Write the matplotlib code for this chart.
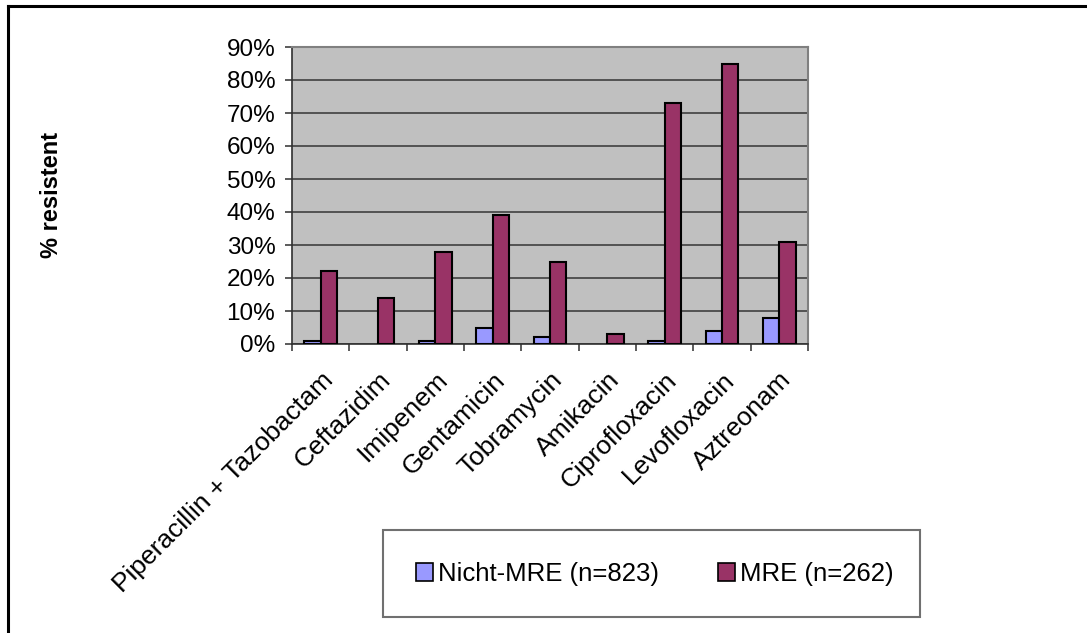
import matplotlib
matplotlib.use("Agg")
import matplotlib.pyplot as plt
import matplotlib.transforms as mtransforms
import numpy as np
from matplotlib.patches import Patch, Rectangle
from matplotlib.lines import Line2D
from matplotlib.ticker import FuncFormatter, FixedLocator

plt.rcParams['font.family'] = ['Liberation Sans', 'DejaVu Sans']

antibiotics = ["Piperacillin + Tazobactam", "Ceftazidim", "Imipenem", "Gentamicin",
               "Tobramycin", "Amikacin", "Ciprofloxacin", "Levofloxacin", "Aztreonam"]
nicht_mre = [1, 0, 1, 5, 2, 0, 1, 4, 8]
mre = [22, 14, 28, 39, 25, 3, 73, 85, 31]
series_labels = ["Nicht-MRE (n=823)", "MRE (n=262)"]
y_ticks = [0, 10, 20, 30, 40, 50, 60, 70, 80, 90]

W, H = 1087, 633
fig = plt.figure(figsize=(W / 100, H / 100), dpi=100)

ax = fig.add_axes([292 / W, 1 - 344 / H, 516 / W, 297 / H])
ax.set_facecolor('#C0C0C0')

x = np.arange(len(antibiotics))
bw = 1 / 3.5
for offset, vals, col in ((-bw / 2, nicht_mre, '#9999FF'), (bw / 2, mre, '#993366')):
    bars = ax.bar(x + offset, vals, width=bw, color=col, edgecolor='black',
                  linewidth=1.5, zorder=3)
    for b, v in zip(bars, vals):
        if v == 0:
            b.set_linewidth(0)

ax.set_xlim(-0.5, len(antibiotics) - 0.5)
ax.set_ylim(0, 90)
ax.set_yticks(y_ticks)
ax.yaxis.set_major_formatter(FuncFormatter(lambda v, p: f"{int(round(v))}%"))
ax.grid(axis='y', color='#404040', linewidth=1.2, zorder=1)
ax.set_axisbelow(True)

ax.set_xticks(x)
ax.set_xticklabels(antibiotics, rotation=45, ha='right', va='top', rotation_mode='anchor')
shift = mtransforms.ScaledTranslation(-6 / 100, 0, fig.dpi_scale_trans)
for lbl in ax.get_xticklabels():
    lbl.set_transform(lbl.get_transform() + shift)
ax.xaxis.set_minor_locator(FixedLocator(np.arange(-0.5, len(antibiotics), 1.0)))
ax.tick_params(axis='x', which='major', length=0, pad=17, labelsize=19)
ax.tick_params(axis='x', which='minor', length=5, width=1.2, color='#404040', direction='out')
ax.tick_params(axis='y', length=5, width=1.2, color='#404040', direction='out', pad=7, labelsize=17.5)

for side in ('top', 'right'):
    ax.spines[side].set_color('#808080')
    ax.spines[side].set_linewidth(1.5)
for side in ('left', 'bottom'):
    ax.spines[side].set_color('#303030')
    ax.spines[side].set_linewidth(1.2)

fig.text(52 / W, 1 - 195 / H, "% resistent", rotation=90, ha='center', va='center',
         fontsize=17, fontweight='bold')

# legend box
fig.patches.append(Rectangle((383 / W, 1 - 617 / H), (920 - 383) / W, 87 / H,
                             transform=fig.transFigure, facecolor='white',
                             edgecolor='#707070', linewidth=1.5, zorder=0))
handles = [Patch(facecolor='#9999FF', edgecolor='black', linewidth=1.2),
           Patch(facecolor='#993366', edgecolor='black', linewidth=1.2)]
fig.legend(handles, series_labels, loc='center', bbox_to_anchor=(655 / W, 1 - 574 / H),
           ncol=2, frameon=False, fontsize=18.5, handlelength=0.65, handleheight=0.65,
           handletextpad=0.2, columnspacing=2.3)

# outer border (top and left)
fig.add_artist(Line2D([8 / W, 1], [1 - 6 / H, 1 - 6 / H], transform=fig.transFigure,
                      color='black', linewidth=2.2))
fig.add_artist(Line2D([8 / W, 8 / W], [0, 1 - 6 / H], transform=fig.transFigure,
                      color='black', linewidth=2.2))

fig.savefig("out.png", dpi=100, facecolor='white')
